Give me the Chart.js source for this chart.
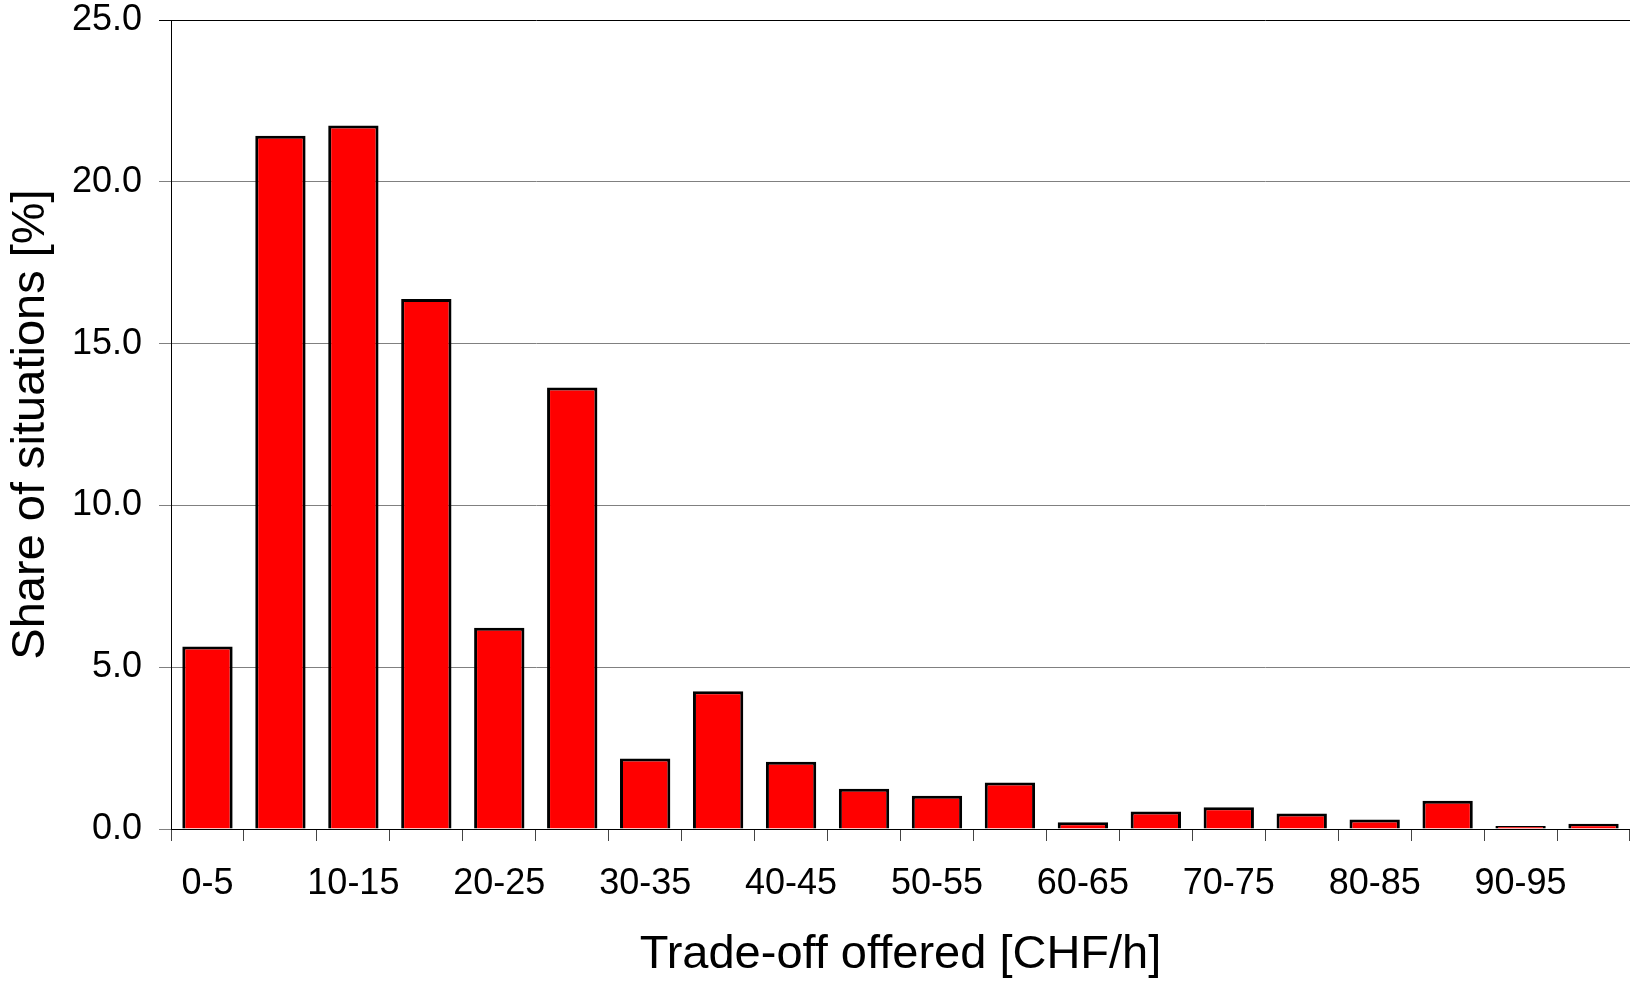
<!DOCTYPE html>
<html>
<head>
<meta charset="utf-8">
<script src="https://cdn.jsdelivr.net/npm/chart.js@4.4.1/dist/chart.umd.min.js"></script>
<style>
  html, body { margin: 0; padding: 0; background: #fff; }
  canvas { display: block; }
</style>
</head>
<body>
<canvas id="chart" width="1630" height="984"></canvas>
<script>
var categories = ["0-5", "5-10", "10-15", "15-20", "20-25", "25-30", "30-35", "35-40",
  "40-45", "45-50", "50-55", "55-60", "60-65", "65-70", "70-75", "75-80",
  "80-85", "85-90", "90-95", "95-100"];

var shares = [5.64, 21.42, 21.74, 16.38, 6.22, 13.64, 2.18, 4.26,
  2.08, 1.24, 1.03, 1.44, 0.21, 0.54, 0.67, 0.48,
  0.29, 0.87, 0.09, 0.16];

var y_ticks = [0, 5, 10, 15, 20, 25];

var font_family = "'Liberation Sans', Arial, Helvetica, sans-serif";

var ctx = document.getElementById("chart").getContext("2d");
var chart = new Chart(ctx, {
  type: "bar",
  data: {
    labels: categories,
    datasets: [{
      data: shares,
      backgroundColor: "#ff0000",
      borderColor: "#000000",
      borderWidth: 3,
      categoryPercentage: 1.0,
      barPercentage: 0.69
    }]
  },
  options: {
    responsive: false,
    animation: false,
    layout: { padding: { top: 20, right: 0, bottom: 0, left: 0 } },
    plugins: {
      legend: { display: false },
      tooltip: { enabled: false }
    },
    scales: {
      x: {
        grid: {
          display: true,
          offset: true,
          drawOnChartArea: false,
          drawTicks: true,
          tickLength: 12,
          color: "#444444"
        },
        border: { display: true, color: "#000000", width: 1 },
        ticks: {
          autoSkip: false,
          maxRotation: 0,
          minRotation: 0,
          padding: 21,
          color: "#000000",
          font: { family: font_family, size: 36 },
          callback: function(value, index) {
            // only every other range is labelled
            return index % 2 === 0 ? categories[index] : "";
          }
        },
        title: {
          display: true,
          text: "Trade-off offered [CHF/h]",
          color: "#000000",
          font: { family: font_family, size: 47 },
          padding: { top: 0, bottom: 1 }
        },
        afterFit: function(scale) {
          scale.height = 155;
          scale.paddingLeft = 0;
          scale.paddingRight = 0;
        }
      },
      y: {
        min: 0,
        max: 25,
        afterBuildTicks: function(scale) {
          scale.ticks = y_ticks.map(function(v) { return { value: v }; });
        },
        grid: {
          display: true,
          drawTicks: true,
          tickLength: 12,
          color: function(c) {
            return c.tick && c.tick.value === 25 ? "#000000" : "#808080";
          }
        },
        border: { display: true, color: "#000000", width: 1 },
        ticks: {
          padding: 17,
          color: "#000000",
          font: { family: font_family, size: 36 },
          callback: function(value) {
            return Number(value).toFixed(1);
          }
        },
        title: {
          display: true,
          text: "Share of situations [%]",
          color: "#000000",
          font: { family: font_family, size: 47 },
          padding: { top: 3, bottom: 0 }
        },
        afterFit: function(scale) {
          scale.width = 171;
          scale.paddingTop = 0;
          scale.paddingBottom = 0;
        }
      }
    }
  }
});
</script>
</body>
</html>
